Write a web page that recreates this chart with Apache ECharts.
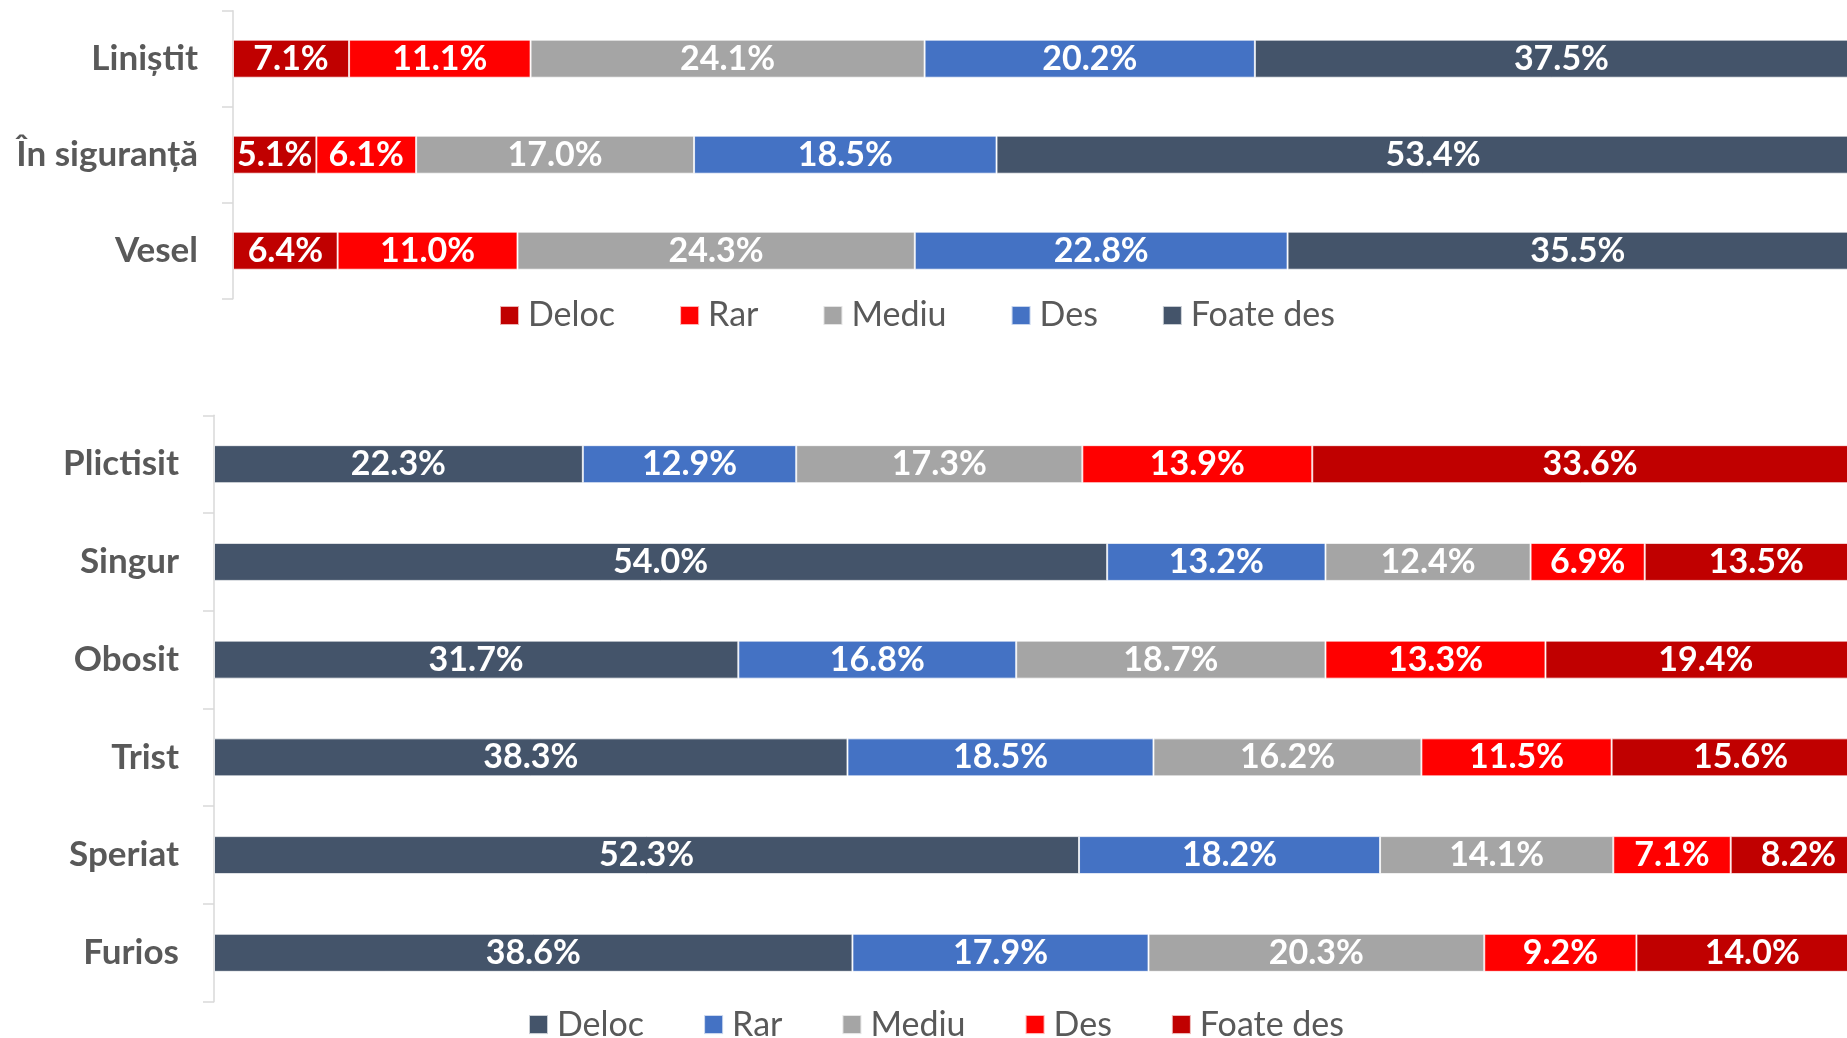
<!DOCTYPE html>
<html>
<head>
<meta charset="utf-8">
<script src="https://cdn.jsdelivr.net/npm/echarts@6/dist/echarts.min.js"></script>
<style>
html,body{margin:0;padding:0;background:#fff;}
#chart{width:1847px;height:1038px;}
</style>
</head>
<body>
<div id="chart"></div>
<script>
// ---- Data ----
const levels = ['Deloc', 'Rar', 'Mediu', 'Des', 'Foate des'];

const topCategories = ['Liniștit', 'În siguranță', 'Vesel'];
const topDeloc    = [7.1, 5.1, 6.4];
const topRar      = [11.1, 6.1, 11.0];
const topMediu    = [24.1, 17.0, 24.3];
const topDes      = [20.2, 18.5, 22.8];
const topFoateDes = [37.5, 53.4, 35.5];

const bottomCategories = ['Plictisit', 'Singur', 'Obosit', 'Trist', 'Speriat', 'Furios'];
const bottomDeloc    = [22.3, 54.0, 31.7, 38.3, 52.3, 38.6];
const bottomRar      = [12.9, 13.2, 16.8, 18.5, 18.2, 17.9];
const bottomMediu    = [17.3, 12.4, 18.7, 16.2, 14.1, 20.3];
const bottomDes      = [13.9, 6.9, 13.3, 11.5, 7.1, 9.2];
const bottomFoateDes = [33.6, 13.5, 19.4, 15.6, 8.2, 14.0];

// ---- Styles ----
const topColors = ['#C00000', '#FF0000', '#A5A5A5', '#4472C4', '#44546A'];
const bottomColors = ['#44546A', '#4472C4', '#A5A5A5', '#FF0000', '#C00000'];
const FONT = 'Lato';

const topValues = [topDeloc, topRar, topMediu, topDes, topFoateDes];
const bottomValues = [bottomDeloc, bottomRar, bottomMediu, bottomDes, bottomFoateDes];

function makeSeries(values, colors, axisIndex, stack) {
  return values.map((vals, i) => ({
    name: levels[i],
    type: 'bar',
    stack: stack,
    xAxisIndex: axisIndex,
    yAxisIndex: axisIndex,
    barWidth: 38,
    clip: false,
    data: vals,
    itemStyle: { color: colors[i], borderColor: 'rgba(255,255,255,0.7)', borderWidth: 1 },
    label: {
      show: true,
      position: 'inside',
      color: '#ffffff',
      fontFamily: FONT,
      fontWeight: 'bold',
      fontSize: 34,
      formatter: p => p.value.toFixed(1) + '%'
    },
    emphasis: { disabled: true },
    animation: false
  }));
}

function makeYAxis(cats, gridIndex) {
  return {
    type: 'category',
    gridIndex: gridIndex,
    data: cats,
    inverse: true,
    axisLine: { show: true, lineStyle: { color: '#D9D9D9', width: 1.5 } },
    axisTick: { show: true, length: 11, lineStyle: { color: '#D9D9D9', width: 1.5 } },
    axisLabel: { margin: 35, color: '#595959', fontFamily: FONT, fontWeight: 'bold', fontSize: 35 },
    splitLine: { show: false }
  };
}

function makeXAxis(gridIndex) {
  return { type: 'value', gridIndex: gridIndex, min: 0, max: 100, show: false, splitLine: { show: false } };
}

function makeLegend(colors, left, top, gap) {
  return {
    left: left,
    top: top,
    icon: 'rect',
    itemWidth: 19,
    itemHeight: 19,
    itemGap: gap,
    selectedMode: false,
    textStyle: { color: '#595959', fontFamily: FONT, fontSize: 34, padding: [0, 0, 0, 4] },
    data: levels.map((n, i) => ({ name: n, itemStyle: { color: colors[i] } }))
  };
}

const chart = echarts.init(document.getElementById('chart'));
chart.setOption({
  animation: false,
  backgroundColor: '#ffffff',
  grid: [
    { left: 233, right: -21, top: 10.7, height: 288, outerBoundsMode: 'none', containLabel: false },
    { left: 214, right: -21, top: 415.3, height: 586.4, outerBoundsMode: 'none', containLabel: false }
  ],
  xAxis: [makeXAxis(0), makeXAxis(1)],
  yAxis: [makeYAxis(topCategories, 0), makeYAxis(bottomCategories, 1)],
  legend: [makeLegend(topColors, 494, 293.5, 64), makeLegend(bottomColors, 523, 1002.6, 59)],
  series: makeSeries(topValues, topColors, 0, 'top').concat(makeSeries(bottomValues, bottomColors, 1, 'bottom'))
});
</script>
</body>
</html>
